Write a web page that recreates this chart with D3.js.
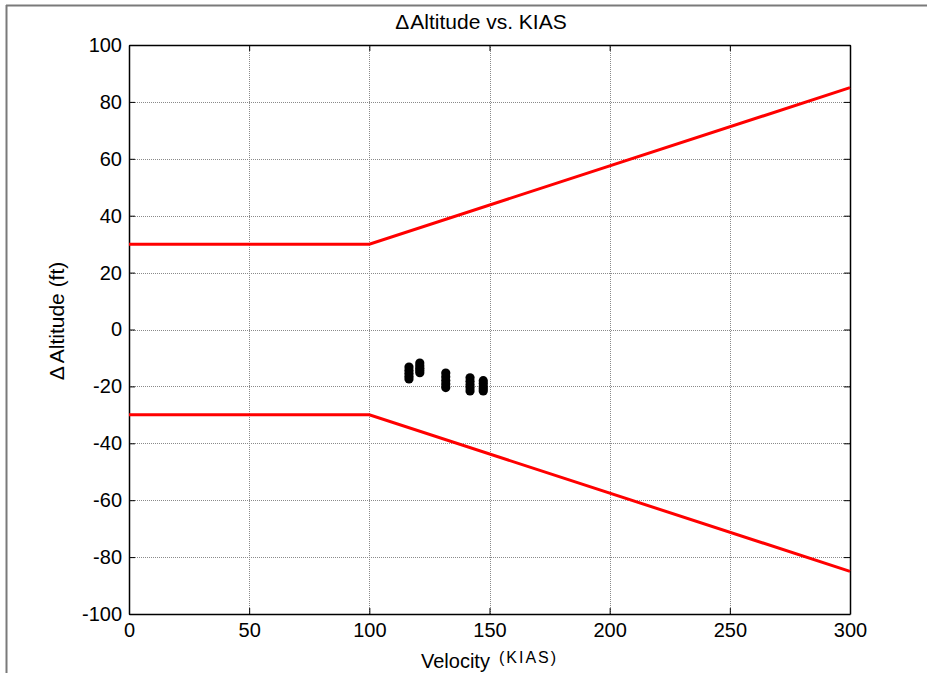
<!DOCTYPE html>
<html>
<head>
<meta charset="utf-8">
<script src="https://cdn.jsdelivr.net/npm/d3@7"></script>
<style>
  body { margin: 0; background: #fff; }
  svg { display: block; }
  text { font-family: Arial, "Liberation Sans", sans-serif; fill: #000; }
</style>
</head>
<body>
<div id="chart"></div>
<script>
'use strict';

// limit envelope
var limitKias = [0, 100, 300];
var upperLimit = [30, 30, 85];
var lowerLimit = [-30, -30, -85];

// measured points (velocity cluster, altitude deltas)
var clusterKias = [116.5, 121, 131.8, 141.9, 147.4];
var clusterDAlt = [
  [-13.2, -14.3, -15.4, -16.4, -17.4],
  [-11.8, -12.7, -13.6, -14.4, -15.2],
  [-15.3, -16.6, -17.9, -19.2, -20.4],
  [-17.0, -18.2, -19.4, -20.5, -21.6],
  [-18.0, -19.0, -20.0, -20.8, -21.6]
];

var xTicks = [0, 50, 100, 150, 200, 250, 300];
var yTicks = [-100, -80, -60, -40, -20, 0, 20, 40, 60, 80, 100];

var W = 927, H = 673;
var margin = { top: 45, right: 77, bottom: 59, left: 129 };
var width = W - margin.left - margin.right,
  height = H - margin.top - margin.bottom;

var svg = d3.select("#chart").append("svg")
  .attr("width", W)
  .attr("height", H);

// figure frame (top and left edges visible)
svg.append("line")
  .attr("x1", 6).attr("x2", W).attr("y1", 5.5).attr("y2", 5.5)
  .attr("stroke", "#7a7a7a").attr("stroke-width", 2);
svg.append("line")
  .attr("x1", 6.5).attr("x2", 6.5).attr("y1", 5).attr("y2", H)
  .attr("stroke", "#7a7a7a").attr("stroke-width", 2);

var x = d3.scaleLinear().domain([0, 300]).range([0, width]);
var y = d3.scaleLinear().domain([-100, 100]).range([height, 0]);

var g = svg.append("g")
  .attr("transform", "translate(" + margin.left + "," + margin.top + ")");

// grid
g.append("g").selectAll("line")
  .data(xTicks.slice(1, -1))
  .enter().append("line")
  .attr("x1", function (d) { return Math.round(x(d)) + 0.5; })
  .attr("x2", function (d) { return Math.round(x(d)) + 0.5; })
  .attr("y1", 0).attr("y2", height)
  .attr("stroke", "#8a8a8a").attr("stroke-dasharray", "1,1");
g.append("g").selectAll("line")
  .data(yTicks.slice(1, -1))
  .enter().append("line")
  .attr("y1", function (d) { return Math.round(y(d)) + 0.5; })
  .attr("y2", function (d) { return Math.round(y(d)) + 0.5; })
  .attr("x1", 0).attr("x2", width)
  .attr("stroke", "#8a8a8a").attr("stroke-dasharray", "1,1");

// plain hyphen minus like the original
var fmt = function (d) { return String(d); };

// axes: ticks point inward on all four sides
var xAxis = g.append("g")
  .attr("transform", "translate(0," + height + ")")
  .call(d3.axisBottom(x).tickValues(xTicks).tickSizeInner(-6).tickSizeOuter(0).tickPadding(9).tickFormat(fmt));
var xTop = g.append("g")
  .call(d3.axisTop(x).tickValues(xTicks).tickSizeInner(-6).tickSizeOuter(0).tickFormat(""));
var yAxis = g.append("g")
  .call(d3.axisLeft(y).tickValues(yTicks).tickSizeInner(-6).tickSizeOuter(0).tickPadding(7).tickFormat(fmt));
var yRight = g.append("g")
  .attr("transform", "translate(" + width + ",0)")
  .call(d3.axisRight(y).tickValues(yTicks).tickSizeInner(-6).tickSizeOuter(0).tickFormat(""));

[xAxis, xTop, yAxis, yRight].forEach(function (a) {
  a.select(".domain").attr("stroke", "#000").attr("stroke-width", 1.5);
  a.selectAll(".tick line").attr("stroke", "#000");
  a.selectAll("text").style("font-size", "20px").attr("fill", "#000");
});

// limit lines
var line = d3.line()
  .x(function (d) { return x(d[0]); })
  .y(function (d) { return y(d[1]); });

[upperLimit, lowerLimit].forEach(function (lim) {
  g.append("path")
    .datum(limitKias.map(function (k, i) { return [k, lim[i]]; }))
    .attr("d", line)
    .attr("fill", "none")
    .attr("stroke", "#ff0000")
    .attr("stroke-width", 3);
});

// data points
var pts = [];
clusterKias.forEach(function (k, i) {
  clusterDAlt[i].forEach(function (v) { pts.push([k, v]); });
});
g.append("g").selectAll("circle")
  .data(pts)
  .enter().append("circle")
  .attr("cx", function (d) { return x(d[0]); })
  .attr("cy", function (d) { return y(d[1]); })
  .attr("r", 4.6)
  .attr("fill", "#000");

// title and labels
var title = svg.append("text")
  .attr("x", 481)
  .attr("y", 29)
  .attr("text-anchor", "middle")
  .style("font-size", "21px");
title.append("tspan").text("\u0394");
title.append("tspan").attr("dx", 1).text("Altitude vs. KIAS");

var ylab = svg.append("text")
  .attr("transform", "translate(64,321) rotate(-90)")
  .attr("text-anchor", "middle")
  .style("font-size", "21px");
ylab.append("tspan").text("\u0394");
ylab.append("tspan").attr("dx", 3).text("Altitude (ft)");

var xl = svg.append("text")
  .attr("x", 421)
  .attr("y", 668)
  .style("font-size", "20px");
xl.append("tspan").text("Velocity");
xl.append("tspan")
  .attr("dx", 9)
  .attr("dy", -5)
  .style("font-size", "16px")
  .style("letter-spacing", "2px")
  .text("(KIAS)");
</script>
</body>
</html>
